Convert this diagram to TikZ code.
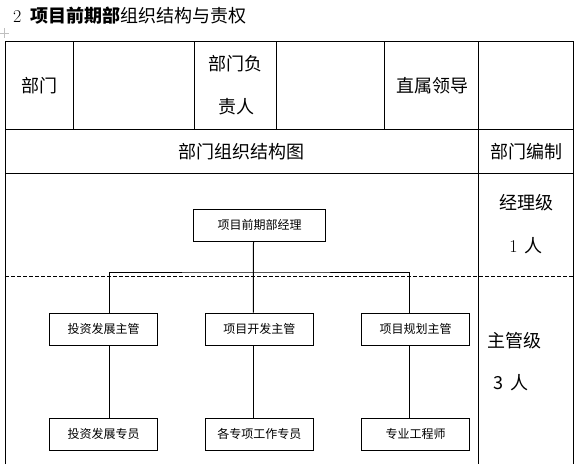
\documentclass[tikz,border=0pt]{standalone}
\usepackage{fontspec}
\newfontfamily\cjk{Noto Sans CJK SC}
\usetikzlibrary{positioning}

\begin{document}
\begin{tikzpicture}[
        x=1pt, y=-1pt,
        node distance=72pt and 47pt,
        post/.style={draw, rectangle, line width=1pt, minimum width=108pt, minimum height=32pt, inner sep=0pt, font=\cjk\fontsize{12}{14}\selectfont},
        cell/.style={inner sep=0pt, font=\cjk\fontsize{18}{20}\selectfont},
        grid/.style={line width=1pt},
        link/.style={line width=1pt}
    ]

    \useasboundingbox (0,0) rectangle (577,464);

    % title and table handle
    \node[cell, anchor=west] (Title) at (13,16) {{\rmfamily 2}\hspace{9pt}\textbf{项目前期部}组织结构与责权};
    \draw[gray!50, line width=1pt] (0,33) -- (9,33) (4.5,28) -- (4.5,38);

    % table frame
    \draw[grid] (5,464) -- (5,41) -- (573,41) -- (573,464);
    \draw[grid] (5,129) -- (573,129);
    \draw[grid] (5,173) -- (573,173);
    \foreach \x in {73,194,276,384}
        \draw[grid] (\x,41) -- (\x,129);
    \draw[grid] (478,41) -- (478,464);
    \draw[line width=0.8pt, dash pattern=on 4pt off 2pt] (5,276) -- (573,276);

    % table texts
    \node[cell] (Dept) at (39,86) {部门};
    \node[cell] (HeadA) at (235,64) {部门负};
    \node[cell] (HeadB) at (236,107) {责人};
    \node[cell] (Boss) at (432,86) {直属领导};
    \node[cell] (ChartTitle) at (241,152) {部门组织结构图};
    \node[cell] (Staffing) at (526,152) {部门编制};
    \node[cell] (MgrLevel) at (526,203) {经理级};
    \node[cell] (MgrCount) at (526,246) {{\rmfamily 1}\hspace{7pt}人};
    \node[cell] (SupLevel) at (514,341) {主管级};
    \node[cell] (SupCount) at (511,383) {3\hspace{7pt}人};

    % org chart
    \node[post, minimum width=132pt] (Mgr) at (259.5,225) {项目前期部经理};
    \node[post] (InvSup) at (103.5,329) {投资发展主管};
    \node[post] (DevSup) at (259.3,329) {项目开发主管};
    \node[post] (PlanSup) at (415.5,329) {项目规划主管};
    \node[post, below=72pt of InvSup] (InvStaff) {投资发展专员};
    \node[post, below=72pt of DevSup] (DevStaff) {各专项工作专员};
    \node[post, below=72pt of PlanSup] (PlanStaff) {专业工程师};

    \coordinate (Bus) at (253,272);
    \draw[link] ([xshift=-6pt]Mgr.south) -- ([xshift=-6pt]DevSup.north);
    \draw[link] ([xshift=6pt]InvSup.north) |- (Bus) -| ([xshift=-6pt]PlanSup.north);
    \draw[link] ([xshift=6pt]InvSup.south) -- ([xshift=6pt]InvStaff.north);
    \foreach \a/\b in {DevSup/DevStaff, PlanSup/PlanStaff}
        \draw[link] ([xshift=-6pt]\a.south) -- ([xshift=-6pt]\b.north);

\end{tikzpicture}
\end{document}
